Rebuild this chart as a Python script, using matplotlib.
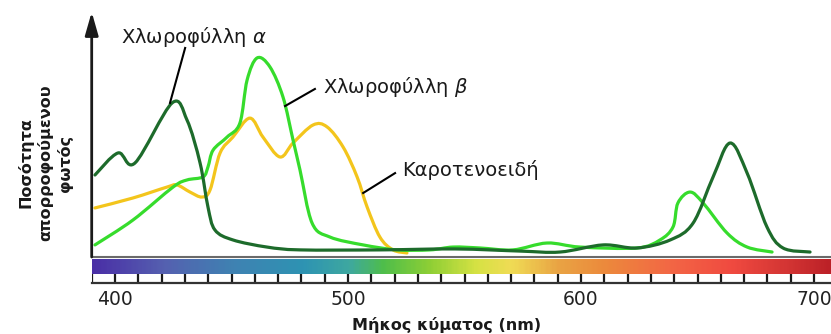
import numpy as np
import matplotlib
matplotlib.use("Agg")
import matplotlib.pyplot as plt
from matplotlib.path import Path
from matplotlib.patches import PathPatch
from matplotlib.colors import LinearSegmentedColormap

# absorption (wavelength in nm, relative absorbance 0-100)
chl_a_nm = [391.4, 401.3, 408.6, 424.5, 430.9, 436.5, 439.9, 442.9, 450.6, 465.2,
            479.4, 513.7, 546.0, 573.8, 591.0, 609.5, 624.0, 638.3, 648.1, 656.7,
            664.0, 671.3, 679.8, 686.7, 698.3]
chl_a_abs = [34.6, 43.9, 39.7, 65.0, 57.8, 39.7, 21.1, 11.4, 7.2, 4.2,
             3.0, 3.0, 3.4, 2.5, 2.1, 5.1, 3.8, 7.2, 14.3, 33.8,
             48.1, 35.4, 12.7, 3.8, 2.1]

chl_b_nm = [391.4, 407.7, 424.9, 430.9, 437.8, 439.9, 442.1, 448.1, 453.6, 456.7,
            461.0, 466.5, 472.1, 476.4, 479.4, 484.6, 492.3, 506.5, 521.0, 535.2,
            545.1, 556.7, 570.8, 585.4, 599.6, 624.0, 633.9, 639.5, 641.6, 646.8,
            652.4, 662.7, 671.3, 682.0]
chl_b_abs = [5.1, 15.6, 29.5, 32.5, 33.8, 38.0, 45.1, 50.6, 56.5, 74.7,
             84.0, 80.2, 67.5, 49.4, 36.7, 14.3, 8.4, 5.1, 3.0, 3.0,
             4.2, 3.8, 3.0, 5.9, 4.2, 3.8, 7.2, 12.7, 22.8, 27.4,
             22.8, 10.1, 4.2, 2.1]

carot_nm = [391.4, 407.7, 422.3, 426.6, 432.2, 437.3, 440.8, 445.1, 450.6, 457.9,
            463.5, 470.8, 476.4, 485.0, 491.0, 497.9, 503.9, 508.2, 513.7, 519.3,
            525.3]
carot_abs = [20.7, 24.9, 29.5, 30.4, 27.4, 25.3, 28.3, 43.9, 50.6, 58.6,
             50.6, 42.2, 48.1, 55.7, 54.9, 46.4, 33.8, 21.1, 8.4, 3.0,
             1.7]

tick_vals = [400, 500, 600, 700]
ruler_ticks = list(range(390, 710, 10))

spec_nm = [390, 420, 450, 480, 500, 515, 535, 555, 570, 590, 610, 640, 665, 690, 708]
spec_cols = ["#4a2fa6", "#5560b0", "#3f82b2", "#2e93b3", "#3ea8a0", "#4fbe4a",
             "#8fcf35", "#d6e244", "#f0dc55", "#e9a444", "#ec8a3c", "#f36545",
             "#f04a40", "#d23433", "#bb2027"]

W, H = 831, 334
X0, X1 = 390, 390 + (831 - 91.7) / 2.33


def fx(px):
    return px / W


def fy(py):
    return 1 - py / H


def smooth_path(xs, ys):
    # catmull-rom through the read points, drawn as bezier segments
    p = np.column_stack([xs, ys])
    p = np.vstack([p[0], p, p[-1]])
    verts = [p[1]]
    codes = [Path.MOVETO]
    for i in range(1, len(p) - 2):
        c1 = p[i] + (p[i + 1] - p[i - 1]) / 6
        c2 = p[i + 1] - (p[i + 2] - p[i]) / 6
        verts += [c1, c2, p[i + 1]]
        codes += [Path.CURVE4] * 3
    return Path(verts, codes)


fig = plt.figure(figsize=(8.31, 3.34), dpi=100)

ax = fig.add_axes([fx(91.7), fy(257), 1 - fx(91.7), (257 - 12) / H])
ax.set_xlim(X0, X1)
ax.set_ylim(0, (257 - 12) / 2.37)
for s in ["top", "right", "left"]:
    ax.spines[s].set_visible(False)
ax.spines["bottom"].set_color("#6a6a6a")
ax.spines["bottom"].set_linewidth(1.5)
ax.set_xticks([])
ax.set_yticks([])
ax.patch.set_alpha(0)

ax.annotate("", xy=(X0, (257 - 12) / 2.37), xytext=(X0, 0),
            arrowprops=dict(arrowstyle="-|>,head_length=1.4,head_width=0.4",
                            color="#1a1a1a", lw=2, shrinkA=0, shrinkB=0),
            annotation_clip=False)

for xs, ys, col in [(carot_nm, carot_abs, "#f3c51c"),
                    (chl_b_nm, chl_b_abs, "#36dc2c"),
                    (chl_a_nm, chl_a_abs, "#1d6b2b")]:
    ax.add_patch(PathPatch(smooth_path(xs, ys), fill=False, edgecolor=col,
                           lw=2.3, capstyle="round", joinstyle="round"))

lab_font = dict(fontsize=14, color="#1a1a1a", family="DejaVu Sans", va="center", ha="left")
ax.text(402.6, 92.8, "Χλωροφύλλη $\\alpha$", **lab_font)
ax.text(489.3, 71.7, "Χλωροφύλλη $\\beta$", **lab_font)
ax.text(523.2, 36.7, "Καροτενοειδή", **lab_font)
ax.plot([430.1, 423.6], [88.2, 65.0], color="black", lw=1.5)
ax.plot([485.8, 473.0], [70.9, 63.7], color="black", lw=1.5)
ax.plot([520.2, 506.5], [35.4, 27.0], color="black", lw=1.5)

# spectrum bar
sp = fig.add_axes([fx(91.7), fy(274), 1 - fx(91.7), 15 / H])
cmap = LinearSegmentedColormap.from_list(
    "spec", [((n - 390) / (708 - 390), c) for n, c in zip(spec_nm, spec_cols)])
sp.imshow(np.linspace(0, 1, 400)[None, :], cmap=cmap, aspect="auto",
          extent=[390, 708, 0, 1])
sp.set_xlim(X0, X1)
sp.axis("off")

# ruler with ticks every 10 nm
ru = fig.add_axes([fx(91.7), fy(283), 1 - fx(91.7), 9 / H])
ru.set_xlim(X0, X1)
ru.set_ylim(0, 1)
ru.vlines(ruler_ticks, 0, 1, color="#1a1a1a", lw=1.6)
for s in ["top", "right", "left"]:
    ru.spines[s].set_visible(False)
ru.spines["bottom"].set_color("#333333")
ru.spines["bottom"].set_linewidth(1.6)
ru.set_yticks([])
ru.set_xticks(tick_vals)
ru.set_xticklabels([str(v) for v in tick_vals], fontsize=13.5, color="#222222")
ru.tick_params(axis="x", length=0, pad=5)

fig.text(fx(447), fy(325), "Μήκος κύματος (nm)", ha="center", va="center",
         fontsize=11.5, fontweight="bold", family="DejaVu Sans", color="#1a1a1a")
fig.text(fx(45), fy(163), "Ποσότητα\nαπορροφούμενου\nφωτός", ha="center", va="center",
         rotation=90, fontsize=11.5, fontweight="bold", linespacing=1.3,
         family="DejaVu Sans", color="#1a1a1a")

fig.savefig("out.png", dpi=100)
